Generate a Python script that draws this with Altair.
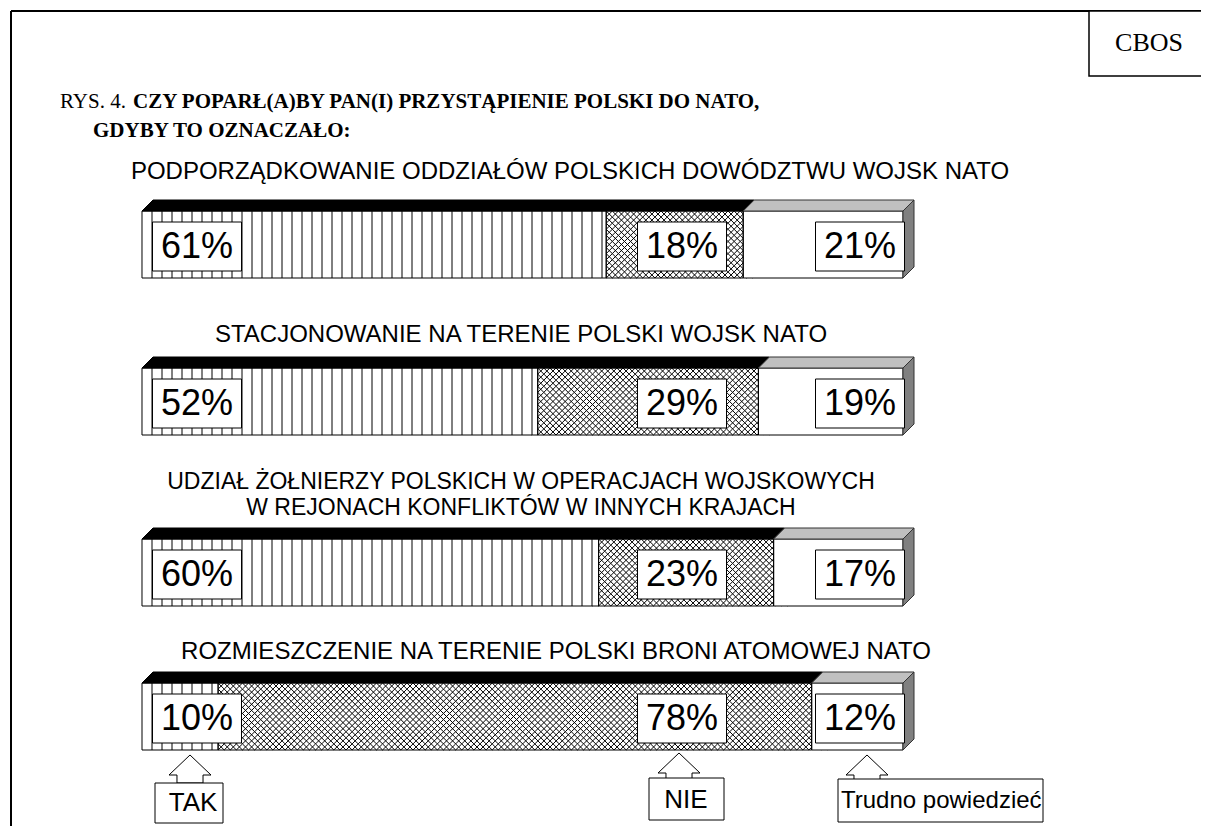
import altair as alt
import pandas as pd

# ---------------- data ----------------
questions = [
    "PODPORZĄDKOWANIE ODDZIAŁÓW POLSKICH DOWÓDZTWU WOJSK NATO",
    "STACJONOWANIE NA TERENIE POLSKI WOJSK NATO",
    "UDZIAŁ ŻOŁNIERZY POLSKICH W OPERACJACH WOJSKOWYCH\nW REJONACH KONFLIKTÓW W INNYCH KRAJACH",
    "ROZMIESZCZENIE NA TERENIE POLSKI BRONI ATOMOWEJ NATO",
]
answers = ["TAK", "NIE", "Trudno powiedzieć"]
tak = [61, 52, 60, 10]
nie = [18, 29, 23, 78]
trudno = [21, 19, 17, 12]
fig_no = "RYS. 4."
title1 = "CZY POPARŁ(A)BY PAN(I) PRZYSTĄPIENIE POLSKI DO NATO,"
title2 = "GDYBY TO OZNACZAŁO:"
source = "CBOS"

# ---------------- layout (pixels) ----------------
W, H = 1193, 818
X0, X1 = 134, 895
PX = (X1 - X0) / 100.0
BAR_TOP = [203, 360, 531, 675]
BAR_H = 67
DEPTH = 11
Q_X = [562, 513, 513, 548]
Q_Y = [164, 327, 474, 644]
Q_FS = [24, 24, 23, 24]
BOX_CX = [189, 674, 852]
BOX_W, BOX_H = 89, 49
SANS = "Liberation Sans"
SERIF = "Liberation Serif"

xs = alt.Scale(domain=[0, 100], range=[X0, X1], nice=False, zero=False)
ys = alt.Scale(domain=[0, H], range=[0, H], nice=False, zero=False)


def XQ(f):
    return alt.X(f"{f}:Q", scale=xs, axis=None, stack=None)


def YQ(f):
    return alt.Y(f"{f}:Q", scale=ys, axis=None, stack=None)


# segments table built from the arrays
rows = []
for q in range(len(questions)):
    start = 0
    for a, v in zip(answers, [tak[q], nie[q], trudno[q]]):
        top = BAR_TOP[q]
        mid = top + BAR_H / 2 + 2
        rows.append(dict(q=q, answer=a, value=v, start=start, end=start + v,
                         top=top, bottom=top + BAR_H,
                         by1=mid - BOX_H / 2, by2=mid + BOX_H / 2, ymid=mid))
        start += v
seg = pd.DataFrame(rows)

# crosshatch lattice for the NIE segments (decoration)
NROWS = 11
S = BAR_H / NROWS
SX = S / PX
hrows = []
for q in range(len(questions)):
    a0 = tak[q]
    n = int(nie[q] / SX) + 2
    for i in range(-1, n + 1):
        for j in range(NROWS):
            hrows.append(dict(q=q, hx=a0 + (i + 0.5) * SX, hy=BAR_TOP[q] + (j + 0.5) * S))
hatch = pd.DataFrame(hrows)

# vertical stripes for TAK segments (decoration)
STRIPE = 10.0 / PX
srows = []
for q in range(len(questions)):
    k = 1
    while k * STRIPE < tak[q] - 0.3:
        srows.append(dict(q=q, sx=k * STRIPE, top=BAR_TOP[q], bottom=BAR_TOP[q] + BAR_H))
        k += 1
stripes = pd.DataFrame(srows)

# 3-D top and side faces
DD = DEPTH / PX
fb, fg, sd = [], [], []
for q in range(len(questions)):
    top = BAR_TOP[q]
    split = tak[q] + nie[q]
    for lo, hi, lst in [(0, split, fb), (split, 100, fg)]:
        lst.append(dict(q=q, fy=top, fx=lo, fx2=hi))
        lst.append(dict(q=q, fy=top - DEPTH, fx=lo + DD, fx2=hi + DD))
    sd.append(dict(q=q, sx=100, sy=top, sy2=top + BAR_H))
    sd.append(dict(q=q, sx=100 + DD, sy=top - DEPTH, sy2=top + BAR_H - DEPTH))
face_black = pd.DataFrame(fb)
face_gray = pd.DataFrame(fg)
side = pd.DataFrame(sd)

one = pd.DataFrame({"k": [0]})
layers = []

# frame
layers.append(alt.Chart(one).mark_rule(color="black", strokeWidth=2).encode(
    x=alt.value(3), x2=alt.value(W), y=alt.value(3)))
layers.append(alt.Chart(one).mark_rule(color="black", strokeWidth=2).encode(
    x=alt.value(3), y=alt.value(3), y2=alt.value(H)))

# crosshatch
layers.append(alt.Chart(hatch).mark_point(
    shape="M-1,-1L1,1M-1,1L1,-1", size=S * S, filled=False, stroke="black",
    strokeWidth=1, opacity=1).encode(x=XQ("hx"), y=YQ("hy")))

# TAK rect (white) + stripes
layers.append(alt.Chart(seg).transform_filter(alt.datum.answer == answers[0]).mark_rect(
    fill="white", stroke="black", strokeWidth=1).encode(
    x=XQ("start"), x2=alt.X2("end"), y=YQ("top"), y2=alt.Y2("bottom")))
layers.append(alt.Chart(stripes).mark_rule(color="black", strokeWidth=1).encode(
    x=XQ("sx"), y=YQ("top"), y2=alt.Y2("bottom")))
# Trudno rect
layers.append(alt.Chart(seg).transform_filter(alt.datum.answer == answers[2]).mark_rect(
    fill="white", stroke="black", strokeWidth=1).encode(
    x=XQ("start"), x2=alt.X2("end"), y=YQ("top"), y2=alt.Y2("bottom")))
# NIE outline
layers.append(alt.Chart(seg).transform_filter(alt.datum.answer == answers[1]).mark_rect(
    fillOpacity=0, stroke="black", strokeWidth=1).encode(
    x=XQ("start"), x2=alt.X2("end"), y=YQ("top"), y2=alt.Y2("bottom")))

# 3-D faces
layers.append(alt.Chart(face_black).mark_area(
    orient="horizontal", fill="black", stroke="black", strokeWidth=1, opacity=1).encode(
    y=YQ("fy"), x=XQ("fx"), x2=alt.X2("fx2"), detail="q:N"))
layers.append(alt.Chart(face_gray).mark_area(
    orient="horizontal", fill="#c0c0c0", stroke="#333333", strokeWidth=1, opacity=1).encode(
    y=YQ("fy"), x=XQ("fx"), x2=alt.X2("fx2"), detail="q:N"))
layers.append(alt.Chart(side).mark_area(
    orient="vertical", fill="#808080", stroke="#333333", strokeWidth=1, opacity=1).encode(
    x=XQ("sx"), y=YQ("sy"), y2=alt.Y2("sy2"), detail="q:N"))

# value boxes
for ci, ans in enumerate(answers):
    cx = BOX_CX[ci]
    base = alt.Chart(seg).transform_filter(alt.datum.answer == ans)
    layers.append(base.mark_rect(fill="white", stroke="black", strokeWidth=1).encode(
        x=alt.value(cx - BOX_W / 2), x2=alt.value(cx + BOX_W / 2),
        y=YQ("by1"), y2=alt.Y2("by2")))
    layers.append(base.transform_calculate(lbl="datum.value + '%'").mark_text(
        font=SANS, fontSize=36, align="center", baseline="middle", color="black").encode(
        x=alt.value(cx), y=YQ("ymid"), text="lbl:N"))

# question labels
qdf = pd.DataFrame({"q": list(range(len(questions))), "question": questions})
for q in range(len(questions)):
    layers.append(alt.Chart(qdf).transform_filter(alt.datum.q == q).mark_text(
        font=SANS, fontSize=Q_FS[q], align="center", baseline="middle", lineBreak="\n",
        lineHeight=26, color="black").encode(
        x=alt.value(Q_X[q]), y=alt.value(Q_Y[q]), text="question:N"))

# titles
tdf = pd.DataFrame({"t": [fig_no, title1, title2, source]})
layers.append(alt.Chart(tdf).transform_filter(alt.datum.t == fig_no).mark_text(
    font=SERIF, fontSize=21, align="left", baseline="middle", color="black").encode(
    x=alt.value(52), y=alt.value(94), text="t:N"))
layers.append(alt.Chart(tdf).transform_filter(alt.datum.t == title1).mark_text(
    font=SERIF, fontSize=21, fontWeight="bold", align="left", baseline="middle", color="black").encode(
    x=alt.value(125), y=alt.value(94), text="t:N"))
layers.append(alt.Chart(tdf).transform_filter(alt.datum.t == title2).mark_text(
    font=SERIF, fontSize=21, fontWeight="bold", align="left", baseline="middle", color="black").encode(
    x=alt.value(85), y=alt.value(123), text="t:N"))
# CBOS box
layers.append(alt.Chart(one).mark_rect(fill="white", stroke="black", strokeWidth=1.5).encode(
    x=alt.value(1081), x2=alt.value(1220), y=alt.value(3), y2=alt.value(68)))
layers.append(alt.Chart(tdf).transform_filter(alt.datum.t == source).mark_text(
    font=SERIF, fontSize=26, align="center", baseline="middle", color="black").encode(
    x=alt.value(1141), y=alt.value(35), text="t:N"))

# legend: arrows + boxes
ARROW = "M0,-0.667L1,0.286L0.62,0.286L0.62,0.667L-0.62,0.667L-0.62,0.286L-1,0.286Z"
LEG = [
    dict(ax=182, ay=761, bx1=147, bx2=215, by1=775, by2=815, tx=185, ty=795, align="center", fs=26),
    dict(ax=671, ay=759, bx1=641, bx2=716, by1=770, by2=812, tx=678, ty=792, align="center", fs=26),
    dict(ax=859, ay=761, bx1=830, bx2=1035, by1=771, by2=814, tx=833, ty=793, align="left", fs=24),
]
ldf = pd.DataFrame({"answer": answers})
for ci, ans in enumerate(answers):
    L = LEG[ci]
    base = alt.Chart(ldf).transform_filter(alt.datum.answer == ans)
    layers.append(base.mark_point(shape=ARROW, size=42 * 42, filled=True, fill="white",
                                  stroke="black", strokeWidth=1, opacity=1).encode(
        x=alt.value(L["ax"]), y=alt.value(L["ay"])))
    layers.append(base.mark_rect(fill="white", stroke="black", strokeWidth=1).encode(
        x=alt.value(L["bx1"]), x2=alt.value(L["bx2"]), y=alt.value(L["by1"]), y2=alt.value(L["by2"])))
    layers.append(base.mark_text(font=SANS, fontSize=L["fs"], align=L["align"], baseline="middle",
                                 color="black").encode(
        x=alt.value(L["tx"]), y=alt.value(L["ty"]), text="answer:N"))

chart = alt.layer(*layers).properties(
    width=W, height=H, padding=0, autosize=alt.AutoSizeParams(type="none"),
    background="white",
).configure_view(stroke=None)

chart.save("out.html", embed_options={"renderer": "svg", "actions": False})
